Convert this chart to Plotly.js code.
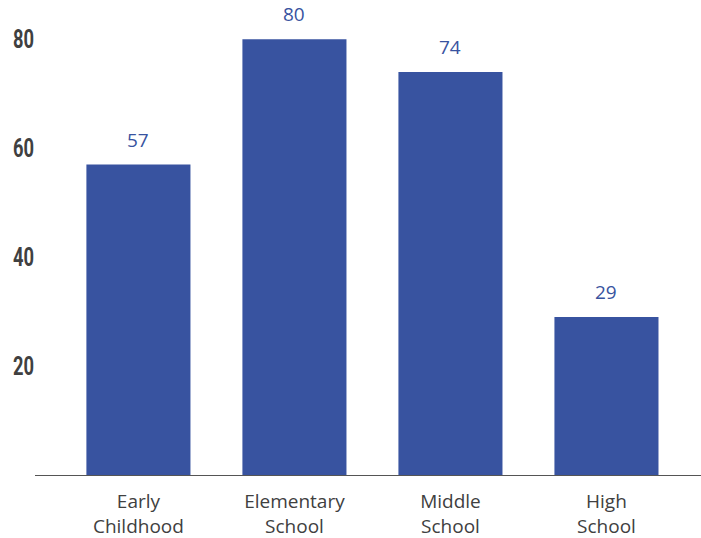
<!DOCTYPE html>
<html>
<head>
<meta charset="utf-8">
<script src="https://cdn.plot.ly/plotly-3.0.1.min.js"></script>
<style>
  html, body { margin: 0; padding: 0; background: #ffffff; }
  #chart { width: 701px; height: 538px; }
</style>
</head>
<body>
<div id="chart"></div>
<script>
// Enrollment counts by school level
const categories = ['Early<br>Childhood', 'Elementary<br>School', 'Middle<br>School', 'High<br>School'];
const values = [57, 80, 74, 29];
const yTicks = [20, 40, 60, 80];

const barColor = '#3853a0';
const textColor = '#404040';

const trace = {
  type: 'bar',
  x: categories,
  y: values,
  width: 0.667,
  marker: { color: barColor },
  hoverinfo: 'skip'
};

const annotations = categories.map((c, i) => ({
  x: c,
  y: values[i],
  xref: 'x',
  yref: 'y',
  text: String(values[i]),
  showarrow: false,
  yanchor: 'bottom',
  yshift: 10,
  font: { family: 'Open Sans, Noto Sans, sans-serif', size: 19, color: barColor }
}));

const layout = {
  width: 701,
  height: 538,
  margin: { l: 35, r: 0, t: 12, b: 63 },
  paper_bgcolor: '#ffffff',
  plot_bgcolor: '#ffffff',
  showlegend: false,
  xaxis: {
    type: 'category',
    range: [-0.663, 3.606],
    showline: true,
    linecolor: '#555555',
    linewidth: 1.2,
    showgrid: false,
    zeroline: false,
    ticks: '',
    tickfont: { family: 'Open Sans, Noto Sans, sans-serif', size: 19, color: textColor },
    ticklabelstandoff: 9
  },
  yaxis: {
    range: [0, 85],
    tickvals: yTicks,
    ticktext: yTicks.map(String),
    showline: false,
    showgrid: false,
    zeroline: false,
    ticks: '',
    tickfont: { family: 'Roboto, sans-serif', size: 26, color: textColor, weight: 'bold' }
  },
  annotations: annotations
};

Plotly.newPlot('chart', [trace], layout, { displayModeBar: false, staticPlot: true }).then(gd => {
  // squeeze the value-axis numbers into a narrow, condensed look
  gd.querySelectorAll('.ytick text').forEach(t => {
    t.setAttribute('textLength', '21');
    t.setAttribute('lengthAdjust', 'spacingAndGlyphs');
  });
});
</script>
</body>
</html>
